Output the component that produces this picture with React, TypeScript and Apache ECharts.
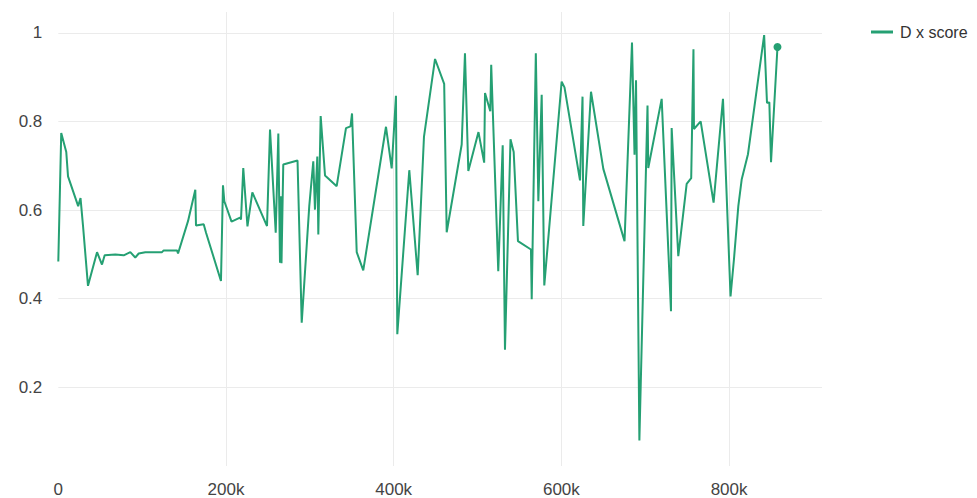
import React, { useEffect, useRef } from "react";
import * as echarts from "echarts";

const seriesName = "D x score";

const xValues = [
  0, 3500, 9500, 11600, 23700, 26500, 29500, 35400, 46200, 52100,
  55300, 68000, 78000, 85900, 91800, 95900, 103800, 123700, 125700, 141600,
  142800, 154700, 163400, 164200, 173400, 176200, 194000, 196400, 198000, 206600,
  216700, 217900, 220600, 225600, 231400, 248900, 252500, 259300, 262400, 264400,
  265600, 266200, 268300, 285300, 290300, 299300, 304100, 306100, 308900, 310100,
  312900, 318100, 332000, 343100, 348500, 350300, 355900, 363700, 390800, 397600,
  402700, 404300, 418600, 428600, 436100, 449300, 460200, 463200, 481100, 485000,
  489000, 501100, 507900, 508900, 515200, 516300, 524700, 530000, 532700, 539300,
  543100, 548200, 563700, 564600, 569500, 572500, 576500, 579600, 600300, 603700,
  622200, 625200, 626100, 635300, 650000, 675300, 684200, 687200, 689000, 693000,
  702700, 703600, 719600, 730700, 731500, 739400, 749400, 754800, 757500, 758100,
  766100, 781500, 792700, 801700, 805800, 811000, 815000, 822500, 841800, 845200,
  848000, 850000, 857700,
];

const yValues = [
  0.484, 0.774, 0.731, 0.676, 0.609, 0.627, 0.564, 0.429, 0.505, 0.477,
  0.498, 0.5, 0.498, 0.505, 0.493, 0.502, 0.505, 0.505, 0.509, 0.509,
  0.502, 0.575, 0.646, 0.565, 0.568, 0.549, 0.44, 0.656, 0.62, 0.574,
  0.583, 0.579, 0.695, 0.563, 0.64, 0.564, 0.782, 0.549, 0.773, 0.481,
  0.631, 0.48, 0.703, 0.712, 0.346, 0.609, 0.71, 0.601, 0.721, 0.545,
  0.812, 0.678, 0.654, 0.785, 0.789, 0.818, 0.505, 0.464, 0.788, 0.694,
  0.858, 0.32, 0.69, 0.453, 0.765, 0.941, 0.885, 0.55, 0.748, 0.954,
  0.688, 0.776, 0.707, 0.864, 0.823, 0.928, 0.462, 0.746, 0.285, 0.76,
  0.731, 0.53, 0.511, 0.399, 0.954, 0.62, 0.86, 0.43, 0.89, 0.877,
  0.667, 0.856, 0.564, 0.867, 0.693, 0.53, 0.978, 0.725, 0.893, 0.08,
  0.836, 0.695, 0.851, 0.372, 0.785, 0.496, 0.659, 0.672, 0.963, 0.783,
  0.8, 0.617, 0.851, 0.405, 0.489, 0.609, 0.669, 0.726, 0.995, 0.842,
  0.843, 0.708, 0.968,
];

const xTickLabels = [0, 200000, 400000, 600000, 800000];
const xGridValues = [200000, 400000, 600000, 800000];
const yTickLabels = [0.2, 0.4, 0.6, 0.8, 1];

const COLOR = "#25a073";
const FONT = "'Liberation Sans', Arial, sans-serif";

export default function App() {
  const ref = useRef<HTMLDivElement>(null);

  useEffect(() => {
    if (!ref.current) return;
    const chart = echarts.init(ref.current, null, { renderer: "svg" });
    const lastIndex = xValues.length - 1;
    const data = xValues.map((x, i) =>
      i === lastIndex
        ? { value: [x, yValues[i]], symbol: "circle", symbolSize: 8 }
        : { value: [x, yValues[i]] }
    );
    chart.setOption({
      animation: false,
      backgroundColor: "#ffffff",
      textStyle: { fontFamily: FONT },
      grid: { left: 58.3, right: 155, top: 12, bottom: 31, containLabel: false },
      legend: {
        show: true,
        left: 871,
        top: 24,
        padding: 0,
        itemWidth: 22,
        itemHeight: 14,
        icon: "path://M0,6 L22,6 L22,9 L0,9 Z",
        itemStyle: { color: COLOR },
        textStyle: { fontSize: 16, color: "#333", fontFamily: FONT, padding: [0, 0, 0, 2] },
        data: [seriesName],
      },
      xAxis: {
        type: "value",
        min: 0,
        max: 910800,
        axisLine: { show: false },
        axisTick: { show: false, customValues: xGridValues },
        splitLine: { show: true, lineStyle: { color: "#ebebeb", width: 1 } },
        axisLabel: {
          customValues: xTickLabels,
          fontSize: 17,
          color: "#444",
          margin: 15,
          fontFamily: FONT,
          formatter: (v: number) => (v === 0 ? "0" : `${Math.round(v / 1000)}k`),
        },
      },
      yAxis: {
        type: "value",
        min: 0.0225,
        max: 1.047,
        axisLine: { show: false },
        axisTick: { show: false, customValues: yTickLabels },
        splitLine: { show: true, lineStyle: { color: "#ebebeb", width: 1 } },
        axisLabel: {
          customValues: yTickLabels,
          fontSize: 17,
          color: "#444",
          margin: 16,
          fontFamily: FONT,
          formatter: (v: number) => String(Math.round(v * 10) / 10),
        },
      },
      series: [
        {
          name: seriesName,
          type: "line",
          data,
          showSymbol: true,
          symbol: "none",
          itemStyle: { color: COLOR },
          lineStyle: { color: COLOR, width: 2 },
          emphasis: { disabled: true },
        },
      ],
    });
    return () => chart.dispose();
  }, []);

  return (
    <div
      ref={ref}
      style={{ position: "fixed", left: 0, top: 0, width: 977, height: 498 }}
    />
  );
}
